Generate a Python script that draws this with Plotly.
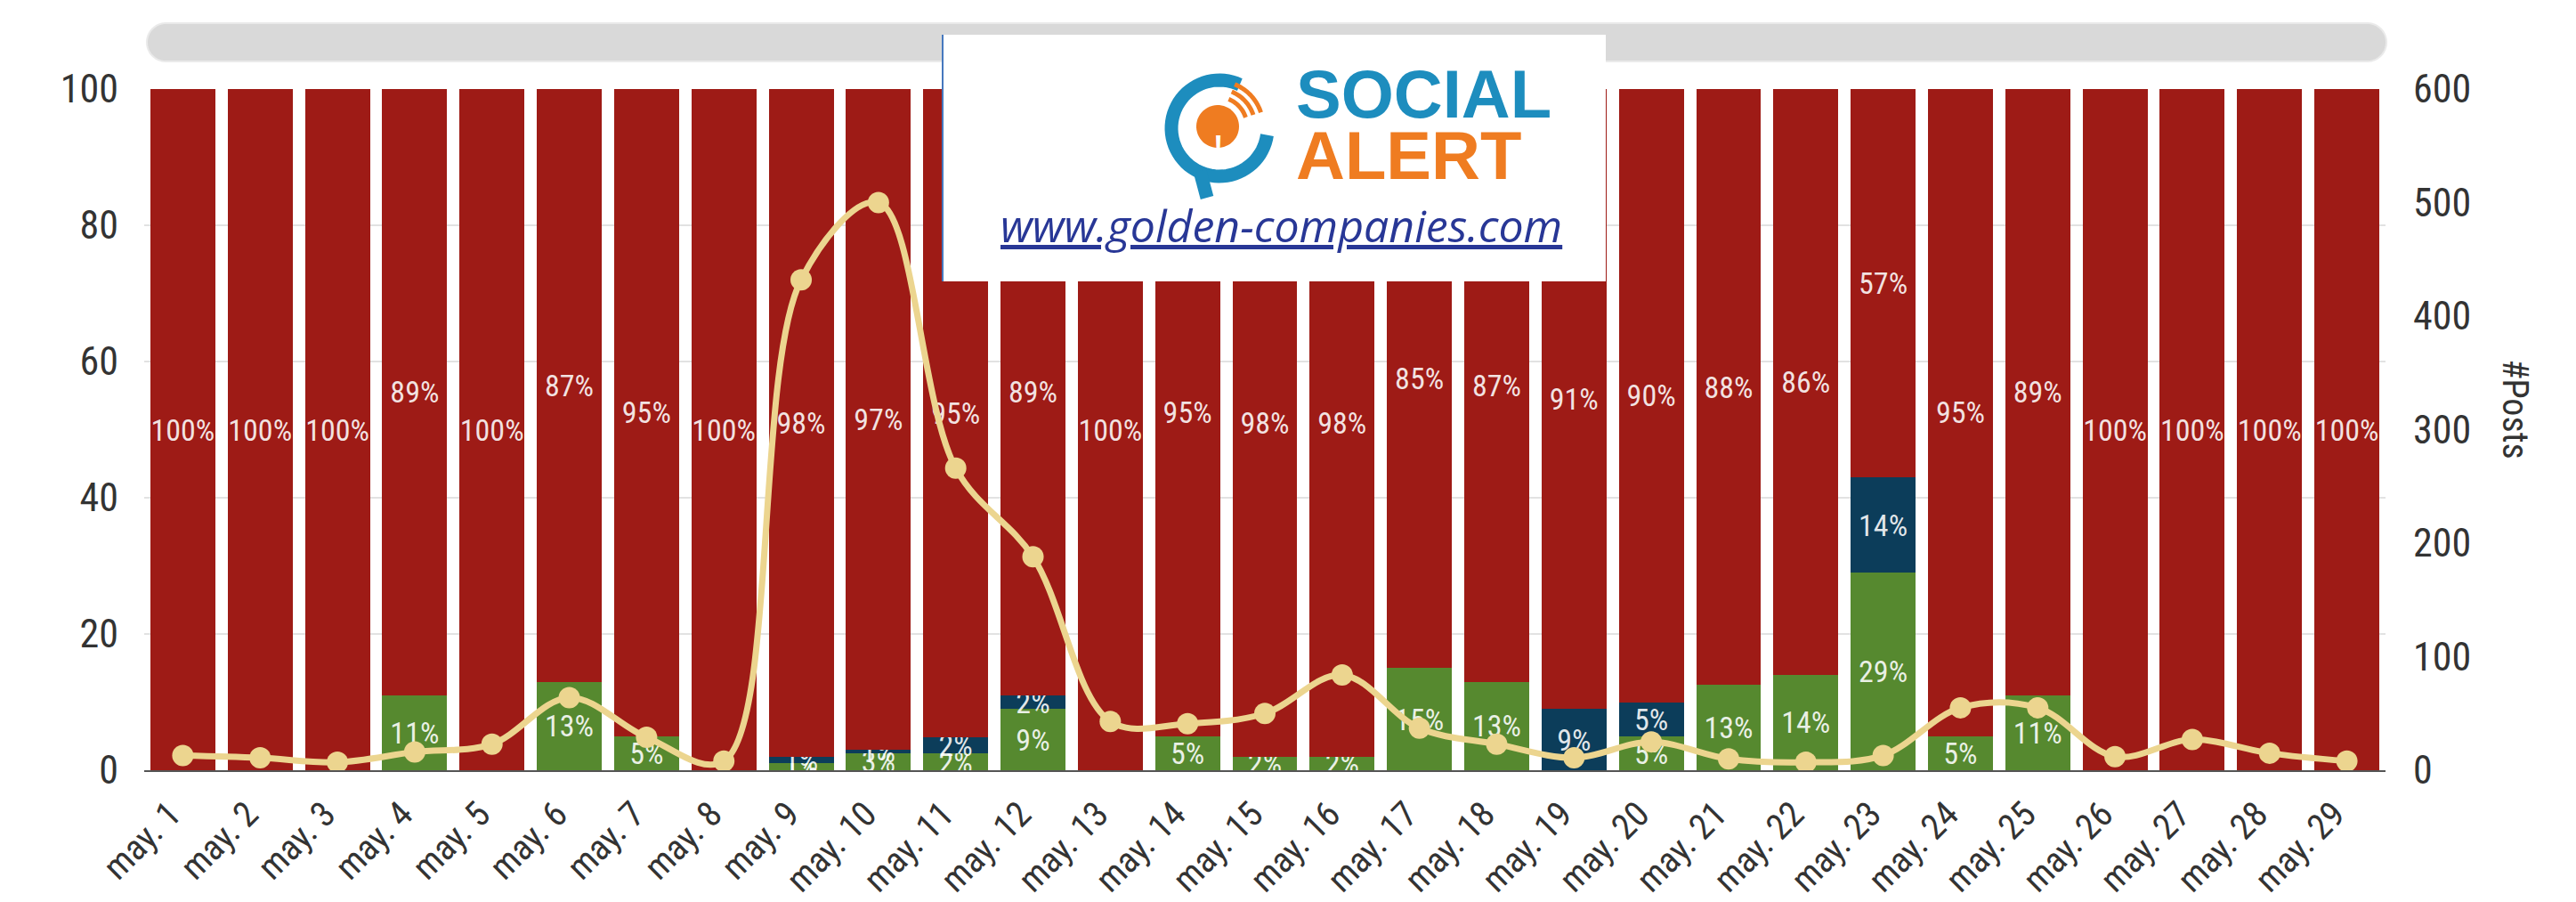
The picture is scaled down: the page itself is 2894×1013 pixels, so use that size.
import numpy as np
import plotly.graph_objects as go

# ---------------- data ----------------
days = ["may. 1", "may. 2", "may. 3", "may. 4", "may. 5", "may. 6", "may. 7", "may. 8",
        "may. 9", "may. 10", "may. 11", "may. 12", "may. 13", "may. 14", "may. 15",
        "may. 16", "may. 17", "may. 18", "may. 19", "may. 20", "may. 21", "may. 22",
        "may. 23", "may. 24", "may. 25", "may. 26", "may. 27", "may. 28", "may. 29"]

positive = [0, 0, 0, 11, 0, 13, 5, 0, 1, 2.5, 2.45, 9, 0, 5, 2, 2, 15, 13, 0, 5,
            12.5, 14, 29, 5, 11, 0, 0, 0, 0]
neutral = [0, 0, 0, 0, 0, 0, 0, 0, 1, 0.5, 2.45, 2, 0, 0, 0, 0, 0, 0, 9, 5,
           0, 0, 14, 0, 0, 0, 0, 0, 0]
negative = [100, 100, 100, 89, 100, 87, 95, 100, 98, 97, 95.1, 89, 100, 95, 98, 98, 85, 87,
            91, 90, 87.5, 86, 57, 95, 89, 100, 100, 100, 100]
posts = [13, 11, 7, 16, 23, 64, 29, 8, 432, 500, 266, 188, 43, 41, 50, 84, 37, 23, 11, 25,
         10, 7, 13, 55, 55, 12, 27, 15, 8]

left_ticks = [0, 20, 40, 60, 80, 100]
right_ticks = [0, 100, 200, 300, 400, 500, 600]

# ---------------- geometry helpers ----------------
W, H = 2894, 1013
L, R, T, B = 154, 2672, 92, 857


def fx(x):
    return (x - L) / (R - L)


def fy(y):
    return (B - y) / (B - T)


def path(points, close=True):
    s = "M " + " L ".join(f"{fx(x):.5f},{fy(y):.5f}" for x, y in points)
    return s + (" Z" if close else "")


def arc(cx, cy, r, a0, a1, n=60):
    a = np.radians(np.linspace(a0, a1, n))
    return list(zip(cx + r * np.cos(a), cy - r * np.sin(a)))


def label(v):
    return f"{int(v + 0.5)}%" if v > 0 else ""


RED = "rgb(158,27,22)"
GREEN = "rgb(86,137,47)"
NAVY = "rgb(12,61,90)"
GOLD = "rgb(236,213,143)"
FONT = "Liberation Sans Narrow, Roboto Condensed, DejaVu Sans Condensed, Arial Narrow, sans-serif"
TICK = dict(family=FONT, size=44, color="#333333")
XTICK = dict(family=FONT, size=40, color="#333333")

fig = go.Figure()
for vals, color in [(positive, GREEN), (neutral, NAVY), (negative, RED)]:
    fig.add_trace(go.Bar(
        x=days, y=vals,
        marker=dict(color=color, line=dict(width=0)),
        text=[label(v) for v in vals],
        textposition="inside", insidetextanchor="middle", textangle=0,
        constraintext="none",
        textfont=dict(family=FONT, size=34, color="rgba(255,255,255,0.88)"),
        showlegend=False, hoverinfo="skip"))

fig.add_trace(go.Scatter(
    x=days, y=posts, yaxis="y2", mode="lines+markers",
    line=dict(color=GOLD, width=7, shape="spline", smoothing=1.0),
    marker=dict(size=24, color=GOLD),
    showlegend=False))

shapes = []
# rounded grey bar on top
r = 21.5
x0, x1, ya, yb = 157 + r, 2673 - r, 18, 61
pts = arc(x1, (ya + yb) / 2, r, 90, -90) + arc(x0, (ya + yb) / 2, r, 270, 90)
shapes.append(dict(type="path", xref="paper", yref="paper", path=path(pts),
                   fillcolor="#d9d9d9", line=dict(color="#eaeaea", width=2), layer="above"))

# logo box
shapes.append(dict(type="rect", xref="paper", yref="paper",
                   x0=fx(1050), x1=fx(1796), y0=fy(308), y1=fy(31),
                   fillcolor="white", line=dict(width=0), layer="above"))
shapes.append(dict(type="line", xref="paper", yref="paper",
                   x0=fx(1051), x1=fx(1051), y0=fy(308), y1=fy(31),
                   line=dict(color="rgb(70,120,190)", width=2), layer="above"))
# icon: blue ring with tail
BLUE = "rgb(29,141,190)"
ORANGE = "rgb(239,124,33)"
cx, cy = 1362, 136
ring = arc(cx, cy, 54, 65, 352)
shapes.append(dict(type="path", xref="paper", yref="paper", path=path(ring, close=False),
                   line=dict(color=BLUE, width=15), fillcolor="rgba(0,0,0,0)", layer="above"))
tail = [(cx - 22, cy + 48), (cx - 14, cy + 78)]
shapes.append(dict(type="path", xref="paper", yref="paper", path=path(tail, close=False),
                   line=dict(color=BLUE, width=15), fillcolor="rgba(0,0,0,0)", layer="above"))
# orange disc
disc = arc(cx - 2, cy - 2, 24, 0, 360)
shapes.append(dict(type="path", xref="paper", yref="paper", path=path(disc),
                   fillcolor=ORANGE, line=dict(width=0), layer="above"))
for rr in (33, 42, 51):
    shapes.append(dict(type="path", xref="paper", yref="paper",
                       path=path(arc(cx - 2, cy - 2, rr, 18, 68, 20), close=False),
                       line=dict(color=ORANGE, width=5), fillcolor="rgba(0,0,0,0)", layer="above"))

annotations = [
    dict(xref="paper", yref="paper", x=fx(2843), y=fy(452), text="#Posts", textangle=90,
         showarrow=False, font=dict(family=FONT, size=40, color="#333333")),
    dict(xref="paper", yref="paper", x=fx(cx - 2), y=fy(cy - 2), text="<b>!</b>",
         showarrow=False, font=dict(family="Liberation Sans", size=34, color="white")),
    dict(xref="paper", yref="paper", x=fx(1446), y=fy(98), xanchor="left", yanchor="middle",
         text="<b>SOCIAL</b>", showarrow=False,
         font=dict(family="Liberation Sans, Arial, sans-serif", size=76, color=BLUE)),
    dict(xref="paper", yref="paper", x=fx(1446), y=fy(166), xanchor="left", yanchor="middle",
         text="<b>ALERT</b>", showarrow=False,
         font=dict(family="Liberation Sans, Arial, sans-serif", size=76, color=ORANGE)),
    dict(xref="paper", yref="paper", x=fx(1431), y=fy(245), xanchor="center", yanchor="middle",
         text="<u><i>www.golden-companies.com</i></u>", showarrow=False,
         font=dict(family="Open Sans, sans-serif", size=50, color="rgb(40,55,150)")),
]

fig.update_layout(
    width=W, height=H,
    margin=dict(l=L, r=W - R, t=T, b=H - B, autoexpand=False),
    barmode="stack", bargap=0.16,
    plot_bgcolor="white", paper_bgcolor="white",
    xaxis=dict(range=[-0.5, len(days) - 0.5], tickangle=-45, tickfont=XTICK,
               showline=True, linecolor="#555555", linewidth=2,
               ticks="", showgrid=False, ticklabelshift=-14, ticklabelstandoff=8),
    yaxis=dict(range=[0, 100], tickvals=left_ticks, showgrid=True, gridcolor="#e2e2e2",
               gridwidth=2, zeroline=False, tickfont=TICK, ticklabelstandoff=28),
    yaxis2=dict(range=[0, 600], tickvals=right_ticks, overlaying="y", side="right",
                showgrid=False, zeroline=False, tickfont=TICK, ticklabelstandoff=30),
    shapes=shapes, annotations=annotations,
)

fig.write_html("out.html")
